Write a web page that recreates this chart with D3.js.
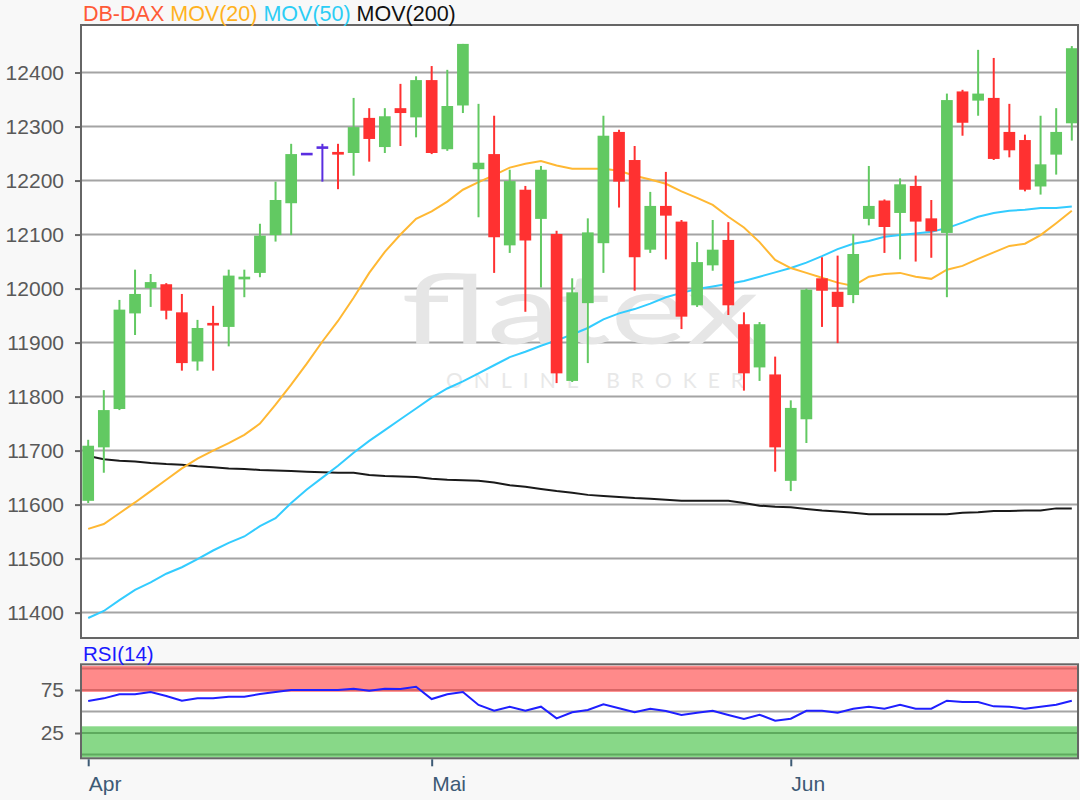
<!DOCTYPE html>
<html>
<head>
<meta charset="utf-8">
<script src="https://cdn.jsdelivr.net/npm/d3@7"></script>
<style>
  html, body { margin: 0; padding: 0; background: #f8f8f8; }
  svg { display: block; font-family: "Liberation Sans", Arial, sans-serif; }
</style>
</head>
<body>
<svg id="chart" width="1080" height="800"></svg>
<script>
// ---------------- DATA ----------------
const dates = [
  "2019-04-01","2019-04-02","2019-04-03","2019-04-04","2019-04-05","2019-04-08","2019-04-09","2019-04-10",
  "2019-04-11","2019-04-12","2019-04-15","2019-04-16","2019-04-17","2019-04-18","2019-04-19","2019-04-22",
  "2019-04-23","2019-04-24","2019-04-25","2019-04-26","2019-04-29","2019-04-30","2019-05-01","2019-05-02",
  "2019-05-03","2019-05-06","2019-05-07","2019-05-08","2019-05-09","2019-05-10","2019-05-13","2019-05-14",
  "2019-05-15","2019-05-16","2019-05-17","2019-05-20","2019-05-21","2019-05-22","2019-05-23","2019-05-24",
  "2019-05-27","2019-05-28","2019-05-29","2019-05-30","2019-05-31","2019-06-03","2019-06-04","2019-06-05",
  "2019-06-06","2019-06-07","2019-06-10","2019-06-11","2019-06-12","2019-06-13","2019-06-14","2019-06-17",
  "2019-06-18","2019-06-19","2019-06-20","2019-06-21","2019-06-24","2019-06-25","2019-06-26","2019-06-27"
];
const open = [11607,11706,11777,11954,12001,12008,11956,11865,11934,11929,12017,12029,12099,12158,12249,12261,
  12253,12251,12316,12262,12334,12317,12386,12258,12339,12221,12249,12080,12183,12129,12101,11829,
  11973,12084,12290,12238,12072,12153,12124,11969,12043,12090,11934,11854,11841,11644,11758,12019,
  11994,11988,12129,12163,12140,12190,12130,12103,12365,12348,12353,12290,12275,12189,12248,12306];
const high = [11720,11812,11979,12035,12027,12010,11990,11942,11968,12035,12035,12120,12198,12268,12249,12268,
  12268,12353,12334,12334,12379,12393,12412,12405,12453,12342,12320,12220,12190,12227,12107,12019,
  12130,12320,12294,12264,12179,12216,12127,12086,12127,12123,11956,11938,11874,11793,12000,12058,
  12061,12101,12227,12165,12204,12209,12164,12361,12368,12442,12427,12342,12285,12320,12334,12449];
const low = [11603,11659,11775,11914,11966,11943,11848,11848,11848,11893,11984,12021,12087,12099,12249,12198,
  12184,12209,12235,12251,12264,12280,12249,12255,12325,12132,12029,12066,11957,12002,11825,11827,
  11862,12029,12150,11996,12066,12054,11925,11966,12033,11951,11811,11829,11661,11625,11714,11929,
  11899,11973,12117,12066,12054,12050,12057,11984,12283,12320,12238,12243,12180,12174,12211,12274];
const close = [11709,11775,11961,11990,12012,11959,11862,11927,11930,12024,12022,12098,12164,12249,12249,12261,
  12248,12299,12277,12319,12325,12386,12251,12338,12453,12233,12095,12199,12089,12220,11843,11993,
  12104,12283,12198,12058,12153,12135,11948,12049,12072,11969,11843,11934,11706,11779,11998,11996,
  11966,12064,12153,12114,12193,12124,12106,12349,12307,12361,12240,12256,12183,12230,12290,12445];

const ma20 = [11555,11564,11584,11604,11625,11646,11667,11685,11700,11714,11729,11750,11785,11822,11861,11902,
  11940,11983,12029,12068,12100,12129,12143,12161,12183,12197,12210,12224,12231,12236,12228,12222,
  12222,12222,12218,12209,12202,12194,12180,12168,12155,12133,12113,12086,12053,12038,12029,12020,
  12011,12005,12022,12027,12029,12022,12018,12035,12042,12055,12067,12079,12083,12099,12121,12144];
const ma50 = [11390,11403,11423,11442,11456,11472,11484,11499,11515,11529,11541,11560,11575,11603,11628,11650,
  11672,11696,11718,11738,11758,11778,11798,11815,11828,11843,11858,11873,11883,11894,11904,11915,
  11927,11943,11954,11962,11972,11984,11992,11999,12004,12009,12014,12022,12030,12038,12048,12060,
  12073,12083,12088,12096,12099,12102,12105,12112,12122,12133,12140,12144,12146,12149,12149,12152];
const ma200 = [11690,11684,11681,11680,11677,11675,11674,11671,11669,11667,11666,11664,11663,11662,11661,11660,
  11659,11659,11655,11653,11652,11651,11648,11646,11645,11644,11641,11636,11633,11629,11625,11622,
  11618,11616,11614,11612,11611,11609,11607,11607,11607,11607,11603,11598,11596,11595,11592,11589,
  11587,11585,11582,11582,11582,11582,11582,11582,11585,11586,11588,11588,11589,11589,11593,11593];
const rsi = [62.2,65.3,70,70,72.7,68,62.6,65.3,65.3,67.2,67.2,70.3,72.7,75,75,75,
  75,76.5,74.2,76.5,76.2,78.8,64.5,70,72.7,57.6,50.9,55.6,50.9,55.6,42.1,49.1,
  51.7,58.4,53.7,49.1,53.3,50.6,45.9,48.6,50.9,45.9,41.3,46.3,39.3,41.6,50.9,50.9,
  48.6,53.3,55.6,53.3,57.9,53.3,53.3,62.6,61,61,56,55.6,53.3,55.6,57.9,62.6];

const priceTicks = [11400,11500,11600,11700,11800,11900,12000,12100,12200,12300,12400];
const rsiTicks = [25, 75];
const monthTickDates = ["2019-04-01","2019-05-01","2019-06-03"];
const monthLabels = ["Apr","Mai","Jun"];
const legendItems = ["DB-DAX","MOV(20)","MOV(50)","MOV(200)"];

// ---------------- LAYOUT / STYLE ----------------
const L = 81, R = 1078;
const mainTop = 25, mainBottom = 638;
const rsiTop = 664.3, rsiBottom = 758.3;
const colUp = "#62c962", colDown = "#ff3131", colFlat = "#5a2ee0";
const legendColors = ["#ff5a36","#ffb21e","#2ccdf5","#111111"];
const gridCol = "#a4a4a4", frameCol = "#666666";

const svg = d3.select("#chart");
const x = d3.scalePoint().domain(dates).range([88.2, 1071.8]);
const y = d3.scaleLinear().domain([11353, 12488]).range([mainBottom, mainTop]);
const yr = d3.scaleLinear().domain([-4.4, 104.9]).range([rsiBottom, rsiTop]);
const bodyW = 11.7;

// ---------------- MAIN PANEL ----------------
svg.append("rect").attr("x", L).attr("y", mainTop).attr("width", R - L).attr("height", mainBottom - mainTop)
  .attr("fill", "#ffffff");

svg.append("g").selectAll("line").data(priceTicks).join("line")
  .attr("x1", L).attr("x2", R).attr("y1", d => y(d)).attr("y2", d => y(d))
  .attr("stroke", gridCol).attr("stroke-width", 2);

// watermark
const wm = svg.append("g").attr("pointer-events", "none");
wm.append("text").attr("x", 401).attr("y", 344).text("flatex")
  .attr("font-family", "Lato, 'DejaVu Sans', sans-serif").attr("font-size", 96)
  .attr("textLength", 358).attr("lengthAdjust", "spacingAndGlyphs")
  .attr("fill", "#e6e6e6");
wm.append("text").attr("x", 446).attr("y", 388).text("ONLINE BROKER")
  .attr("font-family", "Lato, 'DejaVu Sans', sans-serif").attr("font-size", 21)
  .attr("textLength", 298).attr("lengthAdjust", "spacing")
  .attr("fill", "#e8e8e8");

// moving averages
const lineGen = arr => d3.line().x((d, i) => x(dates[i])).y(d => y(d)).curve(d3.curveLinear)(arr);
svg.append("path").attr("d", lineGen(ma200)).attr("fill", "none").attr("stroke", "#1a1a1a").attr("stroke-width", 2);
svg.append("path").attr("d", lineGen(ma50)).attr("fill", "none").attr("stroke", "#33ccff").attr("stroke-width", 2);
svg.append("path").attr("d", lineGen(ma20)).attr("fill", "none").attr("stroke", "#ffb833").attr("stroke-width", 2);

// candles
const candles = dates.map((d, i) => ({ d, o: open[i], h: high[i], l: low[i], c: close[i] }));
const col = k => k.c > k.o ? colUp : (k.c < k.o ? colDown : colFlat);
const cg = svg.append("g").selectAll("g").data(candles).join("g");
cg.append("line")
  .attr("x1", k => x(k.d)).attr("x2", k => x(k.d))
  .attr("y1", k => y(k.h)).attr("y2", k => y(k.l))
  .attr("stroke", col).attr("stroke-width", 2);
cg.append("rect")
  .attr("x", k => x(k.d) - bodyW / 2).attr("width", bodyW)
  .attr("y", k => Math.min(y(k.o), y(k.c)) - (Math.abs(y(k.o) - y(k.c)) < 2.6 ? 1.3 : 0))
  .attr("height", k => Math.max(Math.abs(y(k.o) - y(k.c)), 2.6))
  .attr("fill", col);

// frame
svg.append("rect").attr("x", L).attr("y", mainTop).attr("width", R - L).attr("height", mainBottom - mainTop)
  .attr("fill", "none").attr("stroke", frameCol).attr("stroke-width", 2);

// y axis
const yAxis = svg.append("g").attr("transform", `translate(${L},0)`)
  .call(d3.axisLeft(y).tickValues(priceTicks).tickSize(6).tickPadding(11).tickFormat(d3.format("d")));
yAxis.select(".domain").remove();
yAxis.selectAll("line").attr("stroke", frameCol).attr("stroke-width", 2);
yAxis.selectAll("text").attr("font-size", 21).attr("fill", "#595959").attr("font-family", "'Liberation Sans', Arial, sans-serif");

// legend
const leg = svg.append("text").attr("x", 83).attr("y", 21).attr("font-size", 21.5);
legendItems.forEach((t, i) => {
  leg.append("tspan").text(t + (i < legendItems.length - 1 ? " " : "")).attr("fill", legendColors[i]);
});

// ---------------- RSI PANEL ----------------
svg.append("rect").attr("x", L).attr("y", rsiTop).attr("width", R - L).attr("height", rsiBottom - rsiTop)
  .attr("fill", "#ffffff");
svg.append("rect").attr("x", L).attr("y", yr(103.2)).attr("width", R - L).attr("height", yr(72.8) - yr(103.2))
  .attr("fill", "#ff8a8a");
svg.append("rect").attr("x", L).attr("y", yr(32.8)).attr("width", R - L).attr("height", yr(-3.5) - yr(32.8))
  .attr("fill", "#88d888");
[[100, "#d96666"], [75, "#d96666"], [25, "#5eaa5e"], [0, "#5eaa5e"]].forEach(([v, c]) => {
  svg.append("line").attr("x1", L).attr("x2", R).attr("y1", yr(v)).attr("y2", yr(v))
    .attr("stroke", c).attr("stroke-width", 2);
});
svg.append("line").attr("x1", L).attr("x2", R).attr("y1", yr(50)).attr("y2", yr(50))
  .attr("stroke", gridCol).attr("stroke-width", 2);

svg.append("path").attr("d", d3.line().x((d, i) => x(dates[i])).y(d => yr(d))(rsi))
  .attr("fill", "none").attr("stroke", "#1f1fff").attr("stroke-width", 2);

svg.append("rect").attr("x", L).attr("y", rsiTop).attr("width", R - L).attr("height", rsiBottom - rsiTop)
  .attr("fill", "none").attr("stroke", frameCol).attr("stroke-width", 2);

const rAxis = svg.append("g").attr("transform", `translate(${L},0)`)
  .call(d3.axisLeft(yr).tickValues(rsiTicks).tickSize(6).tickPadding(11));
rAxis.select(".domain").remove();
rAxis.selectAll("line").attr("stroke", frameCol).attr("stroke-width", 2);
rAxis.selectAll("text").attr("font-size", 21).attr("fill", "#595959").attr("font-family", "'Liberation Sans', Arial, sans-serif");

svg.append("text").attr("x", 83).attr("y", 661).text("RSI(14)")
  .attr("font-size", 20.5).attr("fill", "#1a1aff");

// x axis
const xAxis = svg.append("g").attr("transform", `translate(0,${rsiBottom + 1})`)
  .call(d3.axisBottom(x).tickValues(monthTickDates).tickSize(7).tickFormat((d, i) => monthLabels[i]));
xAxis.select(".domain").remove();
xAxis.selectAll("line").attr("stroke", "#3d5a75").attr("stroke-width", 2);
xAxis.selectAll("text").attr("text-anchor", "start").attr("x", 0).attr("y", 32).attr("dy", 0)
  .attr("font-size", 21).attr("fill", "#3d5a75").attr("font-family", "'Liberation Sans', Arial, sans-serif");
</script>
</body>
</html>
